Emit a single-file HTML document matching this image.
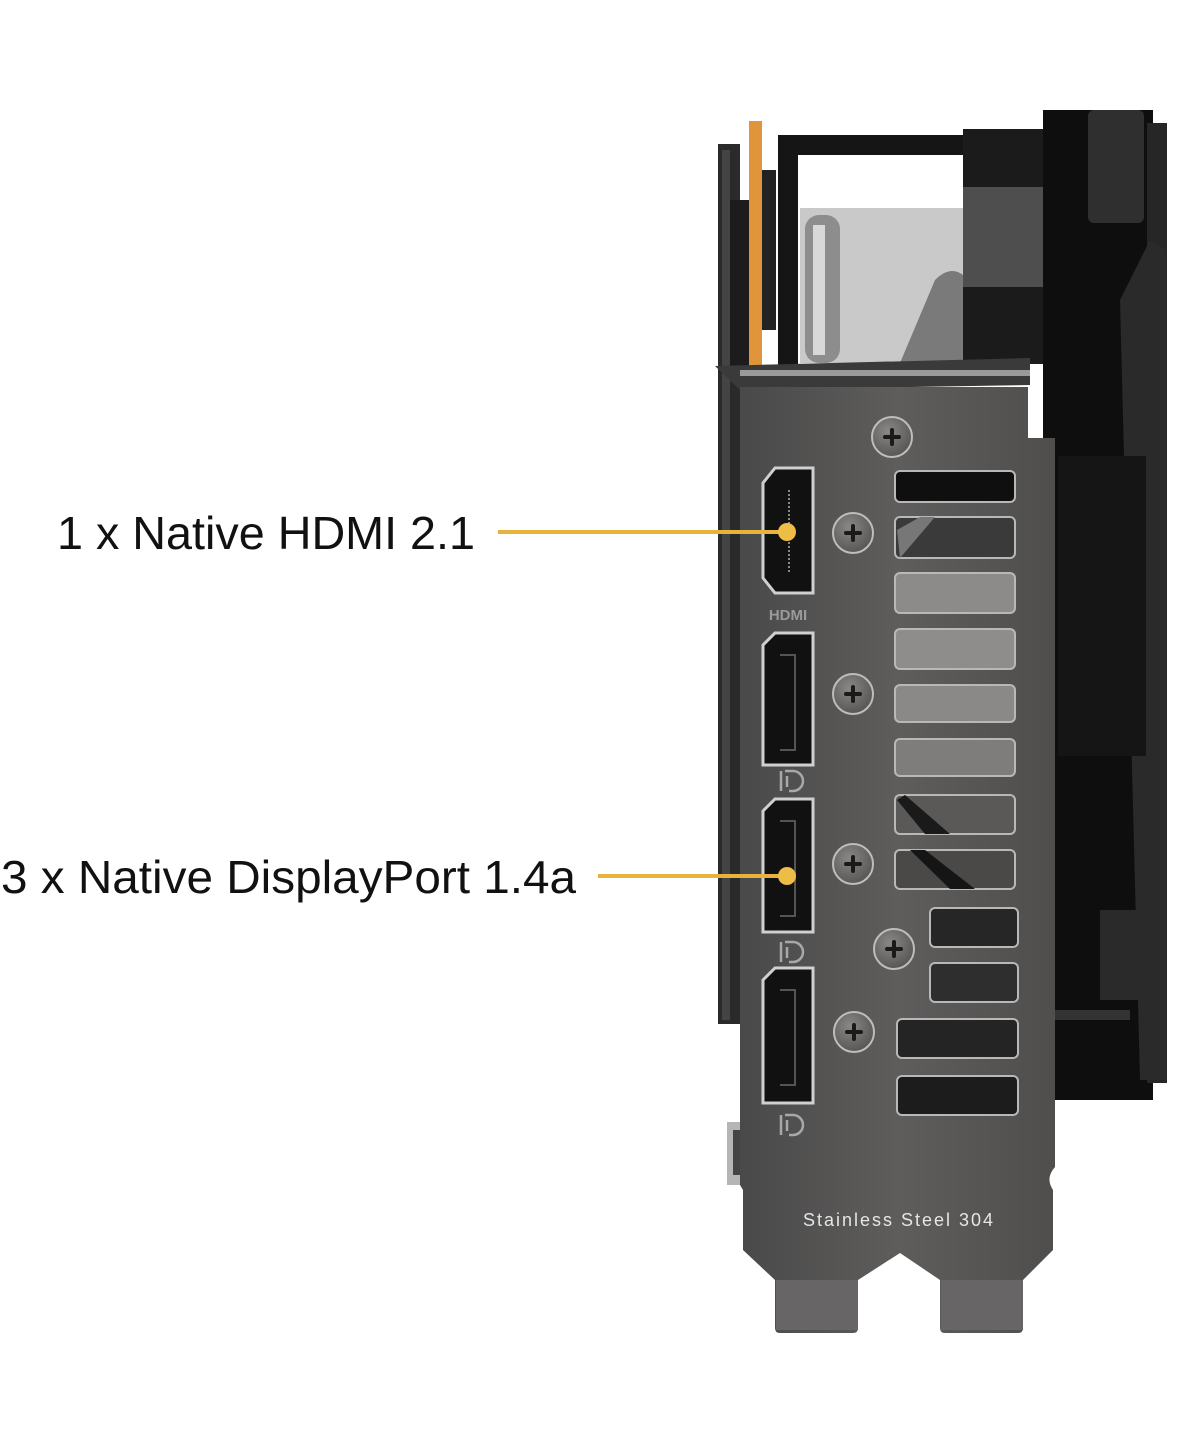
<!DOCTYPE html>
<html><head><meta charset="utf-8"><style>
html,body{margin:0;padding:0;background:#fff;}
svg{display:block;}
</style></head><body>
<svg width="1179" height="1451" viewBox="0 0 1179 1451" xmlns="http://www.w3.org/2000/svg">
<defs>
<linearGradient id="pl" x1="0" x2="1" y1="0" y2="0">
<stop offset="0" stop-color="#4a4949"/><stop offset="0.5" stop-color="#5e5d5c"/><stop offset="1" stop-color="#4f4e4d"/>
</linearGradient>
<radialGradient id="sc" cx="0.4" cy="0.35" r="0.7">
<stop offset="0" stop-color="#8a8886"/><stop offset="1" stop-color="#555352"/>
</radialGradient>
</defs>
<rect width="1179" height="1451" fill="#fff"/>

<!-- back card body -->
<rect x="718" y="144" width="22" height="880" fill="#2b2a2a"/>
<rect x="722" y="150" width="8" height="870" fill="#444"/>
<rect x="730" y="200" width="20" height="170" fill="#1c1c1c"/>
<rect x="749" y="121" width="13" height="266" fill="#e0953a"/>
<rect x="762" y="170" width="14" height="160" fill="#222"/>
<!-- frame -->
<rect x="778" y="135" width="190" height="20" fill="#151515"/>
<rect x="778" y="135" width="20" height="230" fill="#151515"/>
<rect x="800" y="208" width="163" height="155" fill="#c9c9c9"/>
<rect x="805" y="215" width="35" height="148" rx="14" fill="#8d8d8d"/>
<rect x="813" y="225" width="12" height="130" fill="#d8d8d8"/>
<path d="M900 363 L935 280 Q950 265 963 275 L963 363 Z" fill="#7a7a7a"/>
<rect x="963" y="129" width="82" height="235" fill="#1b1b1b"/>
<rect x="963" y="187" width="82" height="100" fill="#4e4e4e"/>
<!-- right fan housing -->
<rect x="1043" y="110" width="110" height="990" fill="#0e0e0e"/>
<rect x="1147" y="123" width="20" height="960" fill="#262626"/>
<path d="M1120 300 L1150 240 L1166 250 L1166 1080 L1140 1080 Z" fill="#2a2a2a"/>
<rect x="1088" y="110" width="56" height="113" rx="6" fill="#2f2f2f"/>
<rect x="1058" y="456" width="88" height="300" fill="#151515"/>
<rect x="1100" y="910" width="45" height="90" fill="#2a2a2a"/>
<rect x="1050" y="1010" width="80" height="10" fill="#333"/>

<!-- left bottom clip -->
<rect x="727" y="1122" width="28" height="63" fill="#b5b5b5"/>
<rect x="733" y="1130" width="14" height="45" fill="#444"/>

<!-- plate flange -->
<path d="M715 366 L1030 358 L1030 385 L740 390 Z" fill="#3a3a3a"/>
<rect x="740" y="370" width="290" height="6" fill="#9a9a9a"/>
<!-- bracket plate -->
<path d="M740 387 L1028 387 L1028 438 L1055 438 L1055 1167 Q1045 1178 1053 1190 L1053 1250 L1023 1280 L1023 1328 Q1023 1333 1018 1333 L945 1333 Q940 1333 940 1328 L940 1280 L900 1253 L858 1280 L858 1328 Q858 1333 853 1333 L780 1333 Q775 1333 775 1328 L775 1280 L743 1250 L743 1190 L740 1185 Z" fill="url(#pl)"/>
<rect x="776" y="1280" width="82" height="50" fill="#676565"/>
<rect x="941" y="1280" width="82" height="50" fill="#676565"/>

<!-- slots -->
<g stroke="#b8b8b8" stroke-width="2">
<rect x="895" y="471" width="120" height="31" rx="5" fill="#0f0f0f"/>
<rect x="895" y="517" width="120" height="41" rx="5" fill="#3a3a3a"/>
<rect x="895" y="573" width="120" height="40" rx="5" fill="#8c8b8a"/>
<rect x="895" y="629" width="120" height="40" rx="5" fill="#8e8d8c"/>
<rect x="895" y="685" width="120" height="37" rx="5" fill="#8a8988"/>
<rect x="895" y="739" width="120" height="37" rx="5" fill="#7e7d7c"/>
<rect x="895" y="795" width="120" height="39" rx="5" fill="#5a5958"/>
<rect x="895" y="850" width="120" height="39" rx="5" fill="#4a4948"/>
<rect x="930" y="908" width="88" height="39" rx="5" fill="#262626"/>
<rect x="930" y="963" width="88" height="39" rx="5" fill="#2e2e2e"/>
<rect x="897" y="1019" width="121" height="39" rx="5" fill="#242424"/>
<rect x="897" y="1076" width="121" height="39" rx="5" fill="#1c1c1c"/>
</g>
<path d="M897 530 L920 517 L935 517 L900 558 Z" fill="#777"/>
<path d="M897 800 L925 834 L950 834 L905 795 Z" fill="#1a1a1a"/>
<path d="M910 850 L950 889 L975 889 L925 850 Z" fill="#151515"/>

<!-- screws -->
<g>
<circle cx="892" cy="437" r="20" fill="url(#sc)" stroke="#bdbdbd" stroke-width="2"/>
<circle cx="853" cy="533" r="20" fill="url(#sc)" stroke="#bdbdbd" stroke-width="2"/>
<circle cx="853" cy="694" r="20" fill="url(#sc)" stroke="#bdbdbd" stroke-width="2"/>
<circle cx="853" cy="864" r="20" fill="url(#sc)" stroke="#bdbdbd" stroke-width="2"/>
<circle cx="894" cy="949" r="20" fill="url(#sc)" stroke="#bdbdbd" stroke-width="2"/>
<circle cx="854" cy="1032" r="20" fill="url(#sc)" stroke="#bdbdbd" stroke-width="2"/>
</g>
<g stroke="#1a1a1a" stroke-width="4" stroke-linecap="round">
<path d="M885 437h14M892 430v14"/><path d="M846 533h14M853 526v14"/><path d="M846 694h14M853 687v14"/>
<path d="M846 864h14M853 857v14"/><path d="M887 949h14M894 942v14"/><path d="M847 1032h14M854 1025v14"/>
</g>

<!-- HDMI port -->
<path d="M775 468 L813 468 L813 593 L775 593 L763 578 L763 483 Z" fill="#111" stroke="#d0d0d0" stroke-width="3"/>
<line x1="789" y1="490" x2="789" y2="572" stroke="#888" stroke-width="2" stroke-dasharray="2 2"/>
<text x="788" y="620" font-family="Liberation Sans, sans-serif" font-weight="bold" font-size="15" fill="#9a9a9a" text-anchor="middle">HDMI</text>
<!-- DP ports -->
<g fill="#111" stroke="#d0d0d0" stroke-width="3">
<path d="M775 633 L813 633 L813 765 L763 765 L763 645 Z"/>
<path d="M775 799 L813 799 L813 932 L763 932 L763 811 Z"/>
<path d="M775 968 L813 968 L813 1103 L763 1103 L763 980 Z"/>
</g>
<g fill="none" stroke="#555" stroke-width="2">
<path d="M780 655 h15 v95 h-15"/><path d="M780 821 h15 v95 h-15"/><path d="M780 990 h15 v95 h-15"/>
</g>
<g fill="none" stroke="#a8a8a8" stroke-width="2.5">
<path d="M781 771 v20 M785 771 h8 a9 9 0 0 1 0 20 h-4 M787 776 v11"/>
<path d="M781 942 v20 M785 942 h8 a9 9 0 0 1 0 20 h-4 M787 947 v11"/>
<path d="M781 1115 v20 M785 1115 h8 a9 9 0 0 1 0 20 h-4 M787 1120 v11"/>
</g>

<text x="898" y="1226" font-family="Liberation Sans, sans-serif" font-size="18" fill="#e6e6e6" text-anchor="middle" textLength="190">Stainless Steel 304</text>

<!-- callouts -->
<line x1="498" y1="532" x2="787" y2="532" stroke="#e8b23d" stroke-width="4"/>
<circle cx="787" cy="532" r="9" fill="#eebd45"/>
<line x1="598" y1="876" x2="787" y2="876" stroke="#e8b23d" stroke-width="4"/>
<circle cx="787" cy="876" r="9" fill="#eebd45"/>

<text x="57" y="549" font-family="Liberation Sans, sans-serif" font-size="46" fill="#111" textLength="418" lengthAdjust="spacingAndGlyphs">1 x Native HDMI 2.1</text>
<text x="1" y="893" font-family="Liberation Sans, sans-serif" font-size="46" fill="#111" textLength="575" lengthAdjust="spacingAndGlyphs">3 x Native DisplayPort 1.4a</text>
</svg>
</body></html>
